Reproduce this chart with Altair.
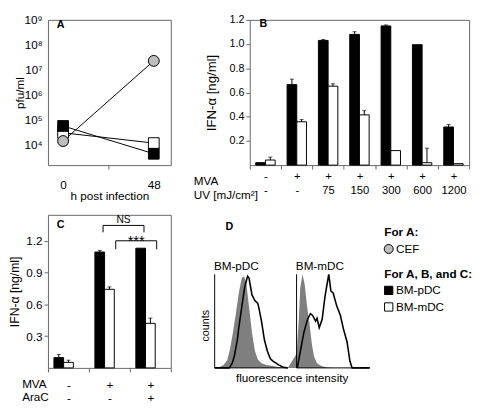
import altair as alt
import pandas as pd

FONT = "Liberation Sans, Arial, sans-serif"
FRAME = "#666666"
GREY_PT = "#BDBDBD"
GREY_AREA = "#7F7F7F"

# ---------------- Panel A: virus titre ----------------
a_hours = [0, 48]
a_cef = [1.45e4, 2.3e7]
a_pdc = [5.8e4, 4.5e3]
a_mdc = [3.1e4, 1.2e4]

# ---------------- Panel B: IFN-alpha vs UV dose ----------------
b_mva = ["-", "+", "+", "+", "+", "+", "+"]
b_uv = ["-", "-", "75", "150", "300", "600", "1200"]
b_pdc = [0.02, 0.665, 1.03, 1.08, 1.15, 0.995, 0.315]
b_pdc_err = [0.0, 0.045, 0.008, 0.022, 0.008, 0.0, 0.02]
b_mdc = [0.042, 0.358, 0.652, 0.415, 0.12, 0.02, 0.012]
b_mdc_err = [0.024, 0.018, 0.02, 0.035, 0.0, 0.12, 0.0]

# ---------------- Panel C: IFN-alpha with AraC ----------------
c_mva = ["-", "+", "+"]
c_arac = ["-", "-", "+"]
c_pdc = [0.097, 1.094, 1.13]
c_pdc_err = [0.03, 0.015, 0.0]
c_mdc = [0.052, 0.742, 0.421]
c_mdc_err = [0.021, 0.022, 0.049]
c_br_label = ["NS", "***"]
c_br_from = [1, 1]
c_br_to = [2, 2]
c_br_series = ["BM-pDC", "BM-mDC"]
c_br_top = [1.345, 1.2]
c_br_low = [1.28, 1.12]

# ---------------- Panel D: flow histograms ----------------
d_names = ["BM-pDC", "BM-mDC"]
d_pdc_iso_x = [0, 7, 12, 17, 21, 25, 29, 33, 37, 40, 43, 47, 51, 55, 59, 64, 71, 79, 87, 97, 100]
d_pdc_iso_y = [0, 1, 3, 8, 20, 38, 58, 80, 96, 98, 92, 65, 38, 18, 9, 5, 3, 2, 1, 0, 0]
d_pdc_st_x = [0, 20, 24, 27, 31, 33, 37, 41, 45, 47, 51, 55, 59, 61, 64, 68, 72, 76, 80, 84, 88, 93, 100]
d_pdc_st_y = [0, 0, 5, 13, 30, 43, 65, 86, 98, 96, 78, 72, 69, 62, 50, 30, 18, 10, 7, 5, 3, 1, 0]
d_mdc_iso_x = [0, 3, 5, 8, 11, 14, 18, 21, 24, 28, 34, 42, 53, 100]
d_mdc_iso_y = [15, 50, 85, 100, 90, 68, 45, 25, 12, 5, 2, 0.5, 0, 0]
d_mdc_st_x = [1, 5, 10, 15, 19, 22, 26, 28, 31, 35, 39, 44, 47, 50, 55, 60, 64, 69, 73, 76, 100]
d_mdc_st_y = [0, 17, 38, 52, 58, 56, 50, 53, 43, 52, 77, 100, 82, 80, 66, 56, 42, 28, 7, 0, 0]

# ---------------- legend ----------------
legend_sections = [("For A:", ["CEF"]), ("For A, B, and C:", ["BM-pDC", "BM-mDC"])]

SERIES = ["BM-pDC", "BM-mDC"]
BAR_PAD = 0.615
HALF_OFF = 0.5 / (2 + 2 * BAR_PAD)
SER_OFF = {"BM-pDC": -HALF_OFF, "BM-mDC": HALF_OFF}

# layout (pixels)
W_A, H_TOP, W_B = 126, 149, 225
W_C, H_BOT = 126, 157
COL_GAP, ROW_GAP = 81, 51
D_PX_PER_UNIT = 0.75        # histogram x: 100 units per small panel
D_CNT_PX = 0.96              # histogram y: 100 counts = 96 px
D_FIRST_PX = -36             # first histogram starts left of the column
D_GAP_UNITS = 12             # gap between the two histograms
LEG_PX = 138                 # legend column start inside the right cell


def panel_title(letter, dx, off):
    return alt.Title(letter, anchor="start", frame="group", offset=off, dx=dx,
                     baseline="alphabetic", fontSize=11, fontWeight="bold",
                     font=FONT, color="black")


# ================= Panel A =================
rows = []
for name, vals in [("BM-mDC", a_mdc), ("BM-pDC", a_pdc), ("CEF", a_cef)]:
    for h, v in zip(a_hours, vals):
        rows.append({"series": name, "h": h, "pfu": v})
dfA = pd.DataFrame(rows)

xA = alt.X("h:Q", scale=alt.Scale(domain=[-8, 57], nice=False, zero=False),
           axis=alt.Axis(values=[0, 24, 48],
                         labelExpr="datum.value == 24 ? '' : datum.label",
                         tickSize=4,
                         tickColor={"condition": {"test": "datum.value == 24", "value": FRAME},
                                    "value": "transparent"},
                         domain=False, grid=False, labelFont=FONT, labelFontSize=12,
                         labelBaseline="alphabetic", labelPadding=20, labelFlush=False,
                         title="h post infection", titleFont=FONT, titleFontSize=12,
                         titleFontWeight="normal", titleY=35, titleBaseline="alphabetic"))
yA = alt.Y("pfu:Q", scale=alt.Scale(type="log", domain=[10 ** 3.2, 1e9], nice=False),
           axis=alt.Axis(values=[1e4, 1e5, 1e6, 1e7, 1e8, 1e9],
                         labelExpr="'10' + ['⁰','¹','²','³','⁴','⁵','⁶','⁷','⁸','⁹'][round(log(datum.value)/LN10)]",
                         ticks=False, labelPadding=6, domain=False, grid=False, labelFlush=False,
                         labelFont=FONT, labelFontSize=12,
                         title="pfu/ml", titleFont=FONT, titleFontSize=12,
                         titleFontWeight="normal", titleX=-29, titleBaseline="middle"))

a_lines = alt.Chart(dfA).mark_line(color="black", strokeWidth=1).encode(x=xA, y=yA, detail="series:N")
a_sq = alt.Chart(dfA).transform_filter(alt.datum.series != "CEF").mark_square(
    size=121, stroke="black", strokeWidth=1, opacity=1).encode(
    x=xA, y=yA,
    fill=alt.condition(alt.datum.series == "BM-pDC", alt.value("black"), alt.value("white")))
a_circ = alt.Chart(dfA).transform_filter(alt.datum.series == "CEF").mark_circle(
    size=125, stroke="black", strokeWidth=1, opacity=1, color=GREY_PT).encode(x=xA, y=yA)
panelA = alt.layer(a_lines, a_sq, a_circ).properties(
    width=W_A, height=H_TOP, title=panel_title("A", 9, -25))


# ================= bar panels =================
def bar_df(keys, pdc, pdc_err, mdc, mdc_err):
    out = []
    for i, k in enumerate(keys):
        out.append(dict(cat=k, series="BM-pDC", value=pdc[i], upper=pdc[i] + pdc_err[i], err=pdc_err[i]))
        out.append(dict(cat=k, series="BM-mDC", value=mdc[i], upper=mdc[i] + mdc_err[i], err=mdc_err[i]))
    return pd.DataFrame(out)


def bar_layers(df, keys, ydom, yvals, xaxis, ylab_size, ytitle_size, ytitle_x):
    x = alt.X("cat:N", sort=keys, scale=alt.Scale(domain=keys, paddingInner=0, paddingOuter=0), axis=xaxis)
    xo = alt.XOffset("series:N", sort=SERIES,
                     scale=alt.Scale(domain=SERIES, paddingInner=0, paddingOuter=BAR_PAD))
    yaxis = alt.Axis(values=yvals, format=".1f", domain=False, grid=False, ticks=True,
                     tickSize=4, tickColor=FRAME, labelPadding=2, labelFont=FONT, labelFlush=False,
                     labelFontSize=ylab_size, title="IFN-α [ng/ml]", titleFont=FONT,
                     titleFontSize=ytitle_size, titleFontWeight="normal", titleX=ytitle_x,
                     titleBaseline="middle")

    def y(field):
        return alt.Y(f"{field}:Q", scale=alt.Scale(domain=ydom, nice=False, zero=True), axis=yaxis)

    bars = alt.Chart(df).mark_bar(stroke="black", strokeWidth=1).encode(
        x=x, xOffset=xo, y=y("value"),
        fill=alt.condition(alt.datum.series == "BM-pDC", alt.value("black"), alt.value("white")))
    errdf = df[df.err > 0]
    rules = alt.Chart(errdf).mark_rule(color="black", strokeWidth=1).encode(
        x=x, xOffset=xo, y=y("value"), y2="upper:Q")
    caps = alt.Chart(errdf).mark_tick(color="black", thickness=1, size=4).encode(
        x=x, xOffset=xo, y=y("upper"))
    return alt.layer(bars, rules, caps), y


def two_row_axis(title, title_x, title_y, label_y, lab_size, line_h):
    return alt.Axis(labelExpr="split(datum.label, '|')", labelAngle=0, labelFont=FONT,
                    labelFontSize=lab_size, labelBaseline="alphabetic", labelLineHeight=line_h,
                    labelPadding=label_y - 4, tickSize=4, tickColor=FRAME, tickBand="extent",
                    domain=False, grid=False, title=title, titleX=title_x, titleY=title_y,
                    titleAlign="left", titleBaseline="alphabetic", titleLineHeight=line_h,
                    titleFont=FONT, titleFontSize=12, titleFontWeight="normal", titleAngle=0)


# Panel B
b_keys = [f"{m}|{u}" for m, u in zip(b_mva, b_uv)]
dfB = bar_df(b_keys, b_pdc, b_pdc_err, b_mdc, b_mdc_err)
layB, _ = bar_layers(dfB, b_keys, [0, 1.2], [0.2, 0.4, 0.6, 0.8, 1.0, 1.2],
                     two_row_axis(["MVA", "UV [mJ/cm²]"], -58, 20, 15, 11.5, 14), 11, 13.5, -39)
panelB = layB.properties(width=W_B, height=H_TOP, title=panel_title("B", 10, -24))

# Panel C
c_keys = [f"{m}|{a}" for m, a in zip(c_mva, c_arac)]
dfC = bar_df(c_keys, c_pdc, c_pdc_err, c_mdc, c_mdc_err)
layC, yC = bar_layers(dfC, c_keys, [0, 1.445], [0.3, 0.6, 0.9, 1.2],
                      two_row_axis(["MVA", "AraC"], -27, 20, 21, 12, 13.5), 12, 12.5, -34)

br_rows, br_txt = [], []
for lab, g1, g2, s, top, low in zip(c_br_label, c_br_from, c_br_to, c_br_series, c_br_top, c_br_low):
    x1 = g1 + 0.5 + SER_OFF[s]
    x2 = g2 + 0.5 + SER_OFF[s]
    for k, (bx, by) in enumerate([(x1, low), (x1, top), (x2, top), (x2, low)]):
        br_rows.append(dict(name=lab, k=k, bx=bx, upper=by))
    br_txt.append(dict(label=lab, bx=(x1 + x2) / 2, upper=top))
dfBr = pd.DataFrame(br_rows)
dfBt = pd.DataFrame(br_txt)
xq = alt.X("bx:Q", scale=alt.Scale(domain=[0, len(c_keys)], nice=False, zero=False), axis=None)
br_lines = alt.Chart(dfBr).mark_line(color="black", strokeWidth=1).encode(
    x=xq, y=yC("upper"), detail="name:N", order="k:Q")
ns_txt = alt.Chart(dfBt).transform_filter(alt.datum.label == "NS").mark_text(
    font=FONT, fontSize=10.5, baseline="alphabetic", dy=-2, color="black").encode(
    x=xq, y=yC("upper"), text="label:N")
st_txt = alt.Chart(dfBt).transform_filter(alt.datum.label != "NS").mark_text(
    font=FONT, fontSize=15, baseline="alphabetic", dy=5, color="black").encode(
    x=xq, y=yC("upper"), text="label:N")
panelC = alt.layer(layC, alt.layer(br_lines, ns_txt, st_txt)).resolve_scale(x="independent").properties(
    width=W_C, height=H_BOT, title=panel_title("C", 9, -24))

# ================= Panel D + legend (one view in the right column) =================
d_starts = [0, 100 + D_GAP_UNITS]
iso_rows, st_rows, ax_rows, lab_rows = [], [], [], []
for name, start, ix, iy, sx, sy in zip(d_names, d_starts,
                                       [d_pdc_iso_x, d_mdc_iso_x], [d_pdc_iso_y, d_mdc_iso_y],
                                       [d_pdc_st_x, d_mdc_st_x], [d_pdc_st_y, d_mdc_st_y]):
    for xv, yv in zip(ix, iy):
        iso_rows.append(dict(panel=name, fx=start + xv, cnt=yv))
    for xv, yv in zip(sx, sy):
        st_rows.append(dict(panel=name, fx=start + xv, cnt=yv))
    ax_rows.append(dict(fx=start, fx2=start + 100, cnt=0, cnt2=0))
    ax_rows.append(dict(fx=start, fx2=start, cnt=0, cnt2=100))
    lab_rows.append(dict(fx=start - 1, cnt=104.5, label=name))
dfIso = pd.DataFrame(iso_rows)
dfSt = pd.DataFrame(st_rows)
dfAx = pd.DataFrame(ax_rows)
dfLab = pd.DataFrame(lab_rows)
dfD = pd.DataFrame([dict(fx=11 / D_PX_PER_UNIT, cnt=(H_BOT - 16) / D_CNT_PX, label="D")])
dfCounts = pd.DataFrame([dict(fx=-9 / D_PX_PER_UNIT, cnt=45, label="counts")])
dfFluo = pd.DataFrame([dict(fx=(d_starts[1] + 100) / 2, cnt=-5.5, label="fluorescence intensity")])

x_lo = -D_FIRST_PX / D_PX_PER_UNIT
dxs = alt.Scale(domain=[x_lo, x_lo + W_B / D_PX_PER_UNIT], nice=False, zero=False)
dys = alt.Scale(domain=[0, H_BOT / D_CNT_PX], nice=False, zero=False)
DX = alt.X("fx:Q", scale=dxs, axis=None)
DY = alt.Y("cnt:Q", scale=dys, axis=None)

d_area = alt.Chart(dfIso).mark_area(color=GREY_AREA, opacity=1).encode(x=DX, y=DY, detail="panel:N")
d_line = alt.Chart(dfSt).mark_line(color="black", strokeWidth=1.6).encode(x=DX, y=DY, detail="panel:N")
d_axes = alt.Chart(dfAx).mark_rule(color="black", strokeWidth=1).encode(x=DX, x2="fx2:Q", y=DY, y2="cnt2:Q")
d_labs = alt.Chart(dfLab).mark_text(font=FONT, fontSize=12, align="left", baseline="alphabetic",
                                    color="black").encode(x=DX, y=DY, text="label:N")
d_letter = alt.Chart(dfD).mark_text(font=FONT, fontSize=11, fontWeight="bold", align="left",
                                    baseline="alphabetic", color="black").encode(x=DX, y=DY, text="label:N")
d_counts = alt.Chart(dfCounts).mark_text(font=FONT, fontSize=11, angle=270, align="center",
                                         baseline="middle", color="black").encode(x=DX, y=DY, text="label:N")
d_fluo = alt.Chart(dfFluo).mark_text(font=FONT, fontSize=12, align="center", baseline="top",
                                     color="black").encode(x=DX, y=DY, text="label:N")
hist = alt.layer(d_area, d_line, d_axes, d_labs, d_letter, d_counts, d_fluo)

leg = []
r = 0.0
for si, (header, items) in enumerate(legend_sections):
    if si > 0:
        r += 0.5
    leg.append(dict(row=r, label=header, kind="header", tx=0, sx=0))
    r += 1
    for it in items:
        leg.append(dict(row=r, label=it, kind="item", tx=12, sx=4.5))
        r += 1
dfL = pd.DataFrame(leg)
ROW_PX = 17
y0 = -18 / ROW_PX
ly = alt.Y("row:Q", scale=alt.Scale(domain=[y0, y0 + H_BOT / ROW_PX], reverse=True, nice=False, zero=False), axis=None)
lxs = alt.Scale(domain=[-LEG_PX, W_B - LEG_PX], nice=False, zero=False)
l_head = alt.Chart(dfL).transform_filter(alt.datum.kind == "header").mark_text(
    font=FONT, fontSize=12, fontWeight="bold", align="left", baseline="middle", color="black").encode(
    x=alt.X("tx:Q", scale=lxs, axis=None), y=ly, text="label:N")
l_item = alt.Chart(dfL).transform_filter(alt.datum.kind == "item").mark_text(
    font=FONT, fontSize=12, align="left", baseline="middle", color="black").encode(
    x=alt.X("tx:Q", scale=lxs, axis=None), y=ly, text="label:N")
l_sq = alt.Chart(dfL).transform_filter(
    (alt.datum.kind == "item") & (alt.datum.label != "CEF")).mark_square(
    size=72, stroke="black", strokeWidth=1, opacity=1).encode(
    x=alt.X("sx:Q", scale=lxs, axis=None), y=ly,
    fill=alt.condition(alt.datum.label == "BM-pDC", alt.value("black"), alt.value("white")))
l_ci = alt.Chart(dfL).transform_filter(alt.datum.label == "CEF").mark_circle(
    size=85, stroke="black", strokeWidth=1, opacity=1, color=GREY_PT).encode(
    x=alt.X("sx:Q", scale=lxs, axis=None), y=ly)
legend = alt.layer(l_head, l_item, l_sq, l_ci)

panelDL = alt.layer(hist, legend).resolve_scale(x="independent", y="independent").properties(
    width=W_B, height=H_BOT, view=alt.ViewBackground(stroke="transparent"))

# ================= layout =================
chart = alt.concat(panelA, panelB, panelC, panelDL, columns=2,
                   spacing={"row": ROW_GAP, "column": COL_GAP}, bounds="flush").properties(
    padding=0
).configure_view(stroke=FRAME, strokeWidth=1).configure_axis(
    labelColor="black", titleColor="black", grid=False
)

chart.save("out.html", embed_options={"renderer": "svg", "actions": False})
